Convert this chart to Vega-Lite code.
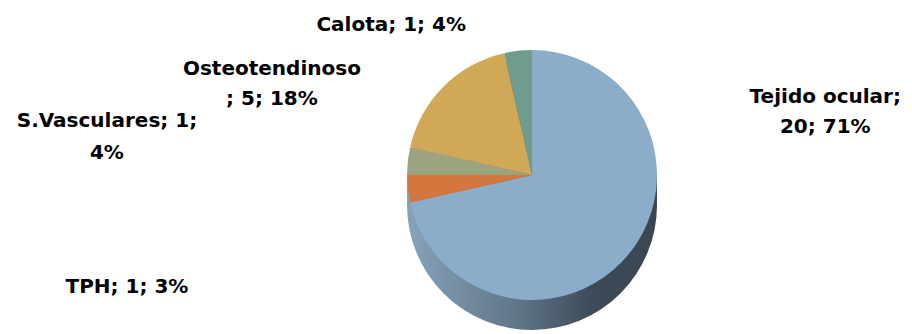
{
  "$schema": "https://vega.github.io/schema/vega-lite/v6.json",
  "width": 760,
  "height": 318,
  "autosize": {"type": "none"},
  "padding": {"left": 152, "top": 16, "right": 0, "bottom": 0},
  "background": "white",
  "config": {"view": {"stroke": null}, "font": "DejaVu Sans"},
  "data": {
    "values": [
      {"categoria": "Tejido ocular", "n": 20, "pct": "71%", "orden": 1, "etiqueta": "Tejido ocular;\n20; 71%"},
      {"categoria": "TPH", "n": 1, "pct": "3%", "orden": 2, "etiqueta": "TPH; 1; 3%"},
      {"categoria": "S.Vasculares", "n": 1, "pct": "4%", "orden": 3, "etiqueta": "S.Vasculares; 1;\n4%"},
      {"categoria": "Osteotendinoso", "n": 5, "pct": "18%", "orden": 4, "etiqueta": "Osteotendinoso\n; 5; 18%"},
      {"categoria": "Calota", "n": 1, "pct": "4%", "orden": 5, "etiqueta": "Calota; 1; 4%"}
    ]
  },
  "transform": [
    {"window": [{"op": "sum", "field": "n", "as": "cum"}], "sort": [{"field": "orden"}], "frame": [null, 0]},
    {"calculate": "datum.cum - datum.n / 2", "as": "mid"}
  ],
  "layer": [
    {
      "mark": {"type": "arc", "radius": 125, "yOffset": 30, "stroke": null,
        "color": {"gradient": "linear", "x1": 0, "y1": 0, "x2": 1, "y2": 0,
          "stops": [{"offset": 0, "color": "#86a3bb"}, {"offset": 0.45, "color": "#5f7587"}, {"offset": 0.75, "color": "#3c4a57"}, {"offset": 1, "color": "#3a4753"}]}},
      "encoding": {"theta": {"aggregate": "sum", "field": "n", "type": "quantitative"}}
    },
    {
      "mark": {"type": "arc", "radius": 125, "yOffset": 20, "stroke": null,
        "color": {"gradient": "linear", "x1": 0, "y1": 0, "x2": 1, "y2": 0,
          "stops": [{"offset": 0, "color": "#86a3bb"}, {"offset": 0.45, "color": "#5f7587"}, {"offset": 0.75, "color": "#3c4a57"}, {"offset": 1, "color": "#3a4753"}]}},
      "encoding": {"theta": {"aggregate": "sum", "field": "n", "type": "quantitative"}}
    },
    {
      "mark": {"type": "arc", "radius": 125, "yOffset": 10, "stroke": null,
        "color": {"gradient": "linear", "x1": 0, "y1": 0, "x2": 1, "y2": 0,
          "stops": [{"offset": 0, "color": "#86a3bb"}, {"offset": 0.45, "color": "#5f7587"}, {"offset": 0.75, "color": "#3c4a57"}, {"offset": 1, "color": "#3a4753"}]}},
      "encoding": {"theta": {"aggregate": "sum", "field": "n", "type": "quantitative"}}
    },
    {
      "mark": {"type": "arc", "radius": 125, "stroke": null},
      "encoding": {
        "theta": {"field": "n", "type": "quantitative", "stack": true},
        "order": {"field": "orden", "type": "quantitative"},
        "color": {
          "field": "categoria", "type": "nominal", "legend": null,
          "scale": {
            "domain": ["Tejido ocular", "TPH", "S.Vasculares", "Osteotendinoso", "Calota"],
            "range": ["#8badc9", "#d4773f", "#9ba47f", "#d1a855", "#6e9d8d"]
          }
        }
      }
    },
    {
      "transform": [{"filter": "datum.categoria === 'Calota'"}],
      "mark": {"type": "text", "radius": 150, "dx": -124, "dy": -1, "fontSize": 20, "fontWeight": "bold", "lineBreak": "\n", "align": "center", "baseline": "middle", "color": "#000000"},
      "encoding": {"theta": {"field": "mid", "type": "quantitative", "stack": null}, "text": {"field": "etiqueta"}}
    },
    {
      "transform": [{"filter": "datum.categoria === 'Osteotendinoso'"}],
      "mark": {"type": "text", "radius": 150, "dx": -154, "dy": 0, "fontSize": 20, "fontWeight": "bold", "lineBreak": "\n", "lineHeight": 30, "align": "center", "baseline": "middle", "color": "#000000"},
      "encoding": {"theta": {"field": "mid", "type": "quantitative", "stack": null}, "text": {"field": "etiqueta"}}
    },
    {
      "transform": [{"filter": "datum.categoria === 'S.Vasculares'"}],
      "mark": {"type": "text", "radius": 150, "dx": -276, "dy": -37, "fontSize": 20, "fontWeight": "bold", "lineBreak": "\n", "lineHeight": 32, "align": "center", "baseline": "middle", "color": "#000000"},
      "encoding": {"theta": {"field": "mid", "type": "quantitative", "stack": null}, "text": {"field": "etiqueta"}}
    },
    {
      "transform": [{"filter": "datum.categoria === 'TPH'"}],
      "mark": {"type": "text", "radius": 150, "dx": -256, "dy": 95, "fontSize": 20, "fontWeight": "bold", "lineBreak": "\n", "align": "center", "baseline": "middle", "color": "#000000"},
      "encoding": {"theta": {"field": "mid", "type": "quantitative", "stack": null}, "text": {"field": "etiqueta"}}
    },
    {
      "transform": [{"filter": "datum.categoria === 'Tejido ocular'"}],
      "mark": {"type": "text", "radius": 150, "dx": 176, "dy": -172, "fontSize": 20, "fontWeight": "bold", "lineBreak": "\n", "lineHeight": 30, "align": "center", "baseline": "middle", "color": "#000000"},
      "encoding": {"theta": {"field": "mid", "type": "quantitative", "stack": null}, "text": {"field": "etiqueta"}}
    }
  ]
}
